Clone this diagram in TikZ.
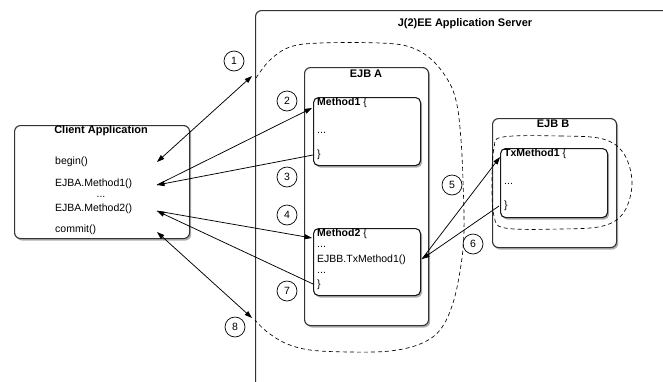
\documentclass[tikz,border=0pt]{standalone}
\usepackage{fontspec}
\setmainfont{Liberation Sans}
\usetikzlibrary{shadows,arrows.meta}

\begin{document}
\begin{tikzpicture}[x=1pt,y=-1pt,
  shd/.style={drop shadow={shadow xshift=1.6pt,shadow yshift=-2pt,opacity=0.45,fill=black!70}},
  outerbox/.style={draw=black!80,line width=1.1pt,rounded corners=6pt,fill=white,shd,inner sep=0pt},
  innerbox/.style={draw=black!90,line width=1.1pt,rounded corners=5pt,fill=white,shd,inner sep=0pt},
  ttl/.style={font=\fontsize{11}{13}\selectfont\bfseries,inner sep=0pt},
  txt/.style={font=\fontsize{10.5}{12}\selectfont,inner sep=0pt,anchor=west,text height=7.5pt,text depth=2pt},
  num/.style={draw=black,line width=0.7pt,circle,minimum size=20pt,inner sep=0pt,font=\fontsize{10.5}{12}\selectfont},
  conn/.style={line width=0.75pt,-{Triangle[length=7.5pt,width=5pt]}},
  biconn/.style={line width=0.75pt,{Triangle[length=7.5pt,width=5pt]}-{Triangle[length=7.5pt,width=5pt]}},
  txarea/.style={line width=0.65pt,dash pattern=on 4pt off 3pt}]

\useasboundingbox (0,0) rectangle (663,381);
\fill[white] (0,0) rectangle (663,381);
\clip (0,0) rectangle (663,381);

% application server (runs off the page to the right and bottom)
\node[outerbox,anchor=north west,minimum width=460pt,minimum height=420pt] (server) at (255,10) {};
\node[ttl] (servertitle) at (465,24) {J(2)EE Application Server};

% client
\node[outerbox,anchor=north west,minimum width=175pt,minimum height=113pt] (client) at (14,125) {};
\node[ttl] (clienttitle) at (101,131) {Client Application};
\node[txt] (cbegin) at (55,162) {begin()};
\node[txt] (cm1) at (55,184) {EJBA.Method1()};
\node[txt,anchor=center] (cdots) at (101,195) {...};
\node[txt] (cm2) at (55,209) {EJBA.Method2()};
\node[txt] (ccommit) at (55,230) {commit()};

% EJB A
\node[outerbox,anchor=north west,minimum width=124pt,minimum height=258pt] (ejba) at (304,67) {};
\node[ttl] (ejbatitle) at (366,74) {EJB A};

\node[innerbox,anchor=north west,minimum width=107pt,minimum height=68pt] (meth1) at (313,97) {};
\node[txt] (m1a) at (317,103) {\textbf{Method1} \{};
\node[txt] (m1b) at (317,131) {...};
\node[txt] (m1c) at (317,155) {\}};

\node[innerbox,anchor=north west,minimum width=107pt,minimum height=67pt] (meth2) at (313,228) {};
\node[txt] (m2a) at (317,234) {\textbf{Method2} \{};
\node[txt] (m2b) at (317,245) {...};
\node[txt] (m2c) at (317,260) {EJBB.TxMethod1()};
\node[txt] (m2d) at (317,271) {...};
\node[txt] (m2e) at (317,285) {\}};

% EJB B
\node[outerbox,anchor=north west,minimum width=124pt,minimum height=129pt] (ejbb) at (492,118) {};
\node[ttl] (ejbbtitle) at (553,124) {EJB B};

\node[innerbox,anchor=north west,minimum width=107pt,minimum height=69pt] (txm) at (500,148) {};
\node[txt] (txa) at (504,154) {\textbf{TxMethod1} \{};
\node[txt] (txb) at (504,182) {...};
\node[txt] (txc) at (504,206) {\}};

% transaction scopes
\draw[txarea] plot[smooth,tension=0.6] coordinates {(256,78) (270,60) (290,47) (320,43) (380,43) (410,47) (432,60) (449,82) (457,105) (461,140) (463,180) (464,230) (461,265) (453,303) (440,330) (420,344) (390,351) (350,352) (310,350) (285,343) (266,331) (255,320)};
\draw[txarea] plot[smooth cycle,tension=0.6] coordinates {(503,137) (560,136) (603,139) (624,154) (632,183) (624,212) (603,226) (560,229) (505,228) (494,216) (492,183) (494,148)};

% connector end points
\coordinate (pbegin) at (157,162);
\coordinate (pm1) at (157,185);
\coordinate (pm2) at (157,211);
\coordinate (pcommit) at (157,232);
\coordinate (sbegin) at (252,76);
\coordinate (scommit) at (252,318);
\coordinate (m1in) at (312,108);
\coordinate (m1out) at (313,155);
\coordinate (m2in) at (312,238);
\coordinate (m2out) at (313,284);
\coordinate (m2call) at (422,259);
\coordinate (txin) at (500,157);
\coordinate (txout) at (499,206);

% connectors
\draw[biconn] (pbegin) -- (sbegin);
\draw[conn] (pm1) -- (m1in);
\draw[conn] (m1out) -- (pm1);
\draw[conn] (pm2) -- (m2in);
\draw[conn] (m2out) -- (pm2);
\draw[biconn] (pcommit) -- (scommit);
\draw[conn] (m2call) -- (txin);
\draw[conn] (txout) -- (m2call);

% step numbers
\node[num] (n1) at (234,61) {1};
\node[num] (n2) at (287,101) {2};
\node[num] (n3) at (287,177) {3};
\node[num] (n4) at (287,215) {4};
\node[num] (n5) at (452,185) {5};
\node[num] (n6) at (473,244) {6};
\node[num] (n7) at (287,291) {7};
\node[num] (n8) at (235,327) {8};

\end{tikzpicture}
\end{document}
